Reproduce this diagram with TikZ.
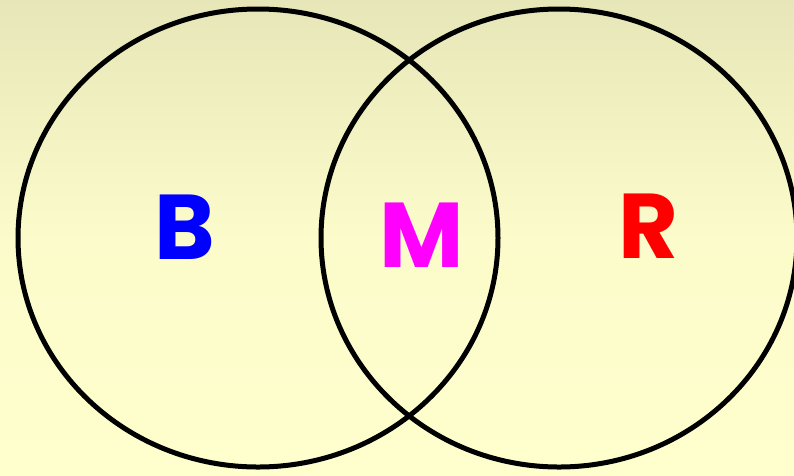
\documentclass[tikz,border=0pt]{standalone}
\usepackage{fontspec}
\setmainfont{Poppins}
\begin{document}
\begin{tikzpicture}[x=1pt,y=-1pt]
	\tikzset{ring/.style={draw=black, line width=5pt},
		lbl/.style={font=\fontsize{92}{92}\selectfont\bfseries, inner sep=0pt}}
	\definecolor{bgtop}{RGB}{230,230,184}
	\definecolor{bgbot}{RGB}{255,255,206}
	\definecolor{lblblue}{RGB}{0,0,255}
	\definecolor{lblmag}{RGB}{255,0,255}
	\definecolor{lblred}{RGB}{255,0,0}
	\useasboundingbox (0,0) rectangle (794,475);
	\shade[top color=bgtop, bottom color=bgbot, middle color=bgbot!85!bgtop, shading angle=0] (0,0) rectangle (794,475);
	\clip (0,0) rectangle (794,475);
	\draw[ring] (258,238) ellipse [x radius=240, y radius=229];
	\draw[ring] (559,238) ellipse [x radius=238, y radius=229];
	\node[lbl, text=lblblue] (b) at (185,227) {B};
	\node[lbl, text=lblmag]  (m) at (422,235) {M};
	\node[lbl, text=lblred]  (r) at (648,226) {R};
\end{tikzpicture}
\end{document}
